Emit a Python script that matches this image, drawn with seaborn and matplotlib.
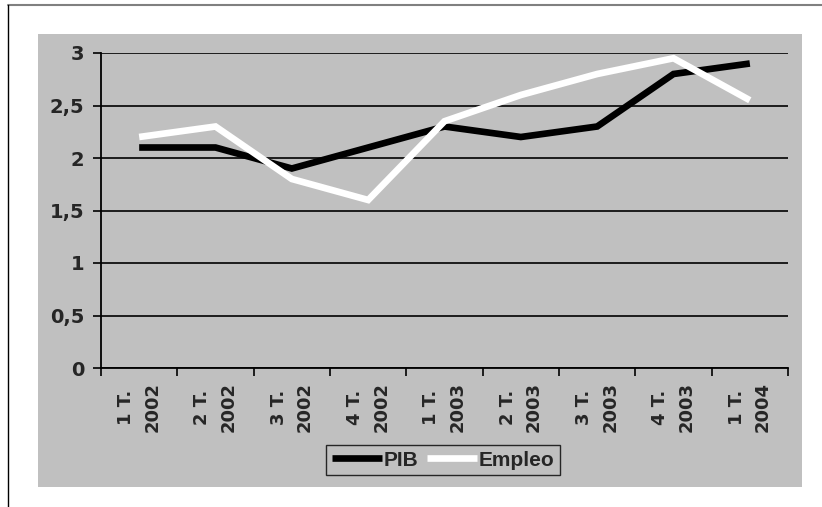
import matplotlib
matplotlib.use("Agg")
import matplotlib.pyplot as plt
from matplotlib.lines import Line2D
from matplotlib.patches import Rectangle
import seaborn as sns
import pandas as pd
import numpy as np

# Quarterly growth figures
quarters = ["1 T.\n2002", "2 T.\n2002", "3 T.\n2002", "4 T.\n2002",
            "1 T.\n2003", "2 T.\n2003", "3 T.\n2003", "4 T.\n2003",
            "1 T.\n2004"]
pib = [2.1, 2.1, 1.9, 2.1, 2.3, 2.2, 2.3, 2.8, 2.9]
empleo = [2.2, 2.3, 1.8, 1.6, 2.35, 2.6, 2.8, 2.95, 2.55]
y_ticks = [0, 0.5, 1, 1.5, 2, 2.5, 3]
y_labels = ["0", "0,5", "1", "1,5", "2", "2,5", "3"]

sns.set_style("white")
plt.rcParams["font.family"] = ["Liberation Sans", "DejaVu Sans"]
plt.rcParams["font.weight"] = "bold"

y_tick_font = {"family": "DejaVu Sans", "weight": "bold", "size": 14}
x_tick_font = {"family": "DejaVu Sans", "weight": "bold", "size": 13}

W, H = 822, 507
fig = plt.figure(figsize=(W / 100, H / 100), dpi=100)
fig.patch.set_facecolor("white")

gray = "#C0C0C0"
# chart area background
fig.add_artist(Rectangle((38 / W, 1 - 487 / H), (802 - 38) / W, (487 - 34) / H,
                         transform=fig.transFigure, facecolor=gray,
                         edgecolor="none", zorder=0))
# outer frame lines
fig.add_artist(Line2D([8 / W, 1], [1 - 5 / H, 1 - 5 / H], transform=fig.transFigure,
                      color="#808080", lw=1.5))
fig.add_artist(Line2D([8 / W, 8 / W], [0, 1 - 5 / H], transform=fig.transFigure,
                      color="black", lw=1.0))

ax = fig.add_axes([101 / W, 1 - 368 / H, (788 - 101) / W, (368 - 53) / H])
ax.set_facecolor(gray)
ax.patch.set_alpha(0)

df = pd.DataFrame({"pos": np.arange(len(quarters)), "PIB": pib, "Empleo": empleo})
sns.lineplot(data=df, x="pos", y="PIB", ax=ax, color="black", lw=4.8,
             label="PIB", solid_capstyle="butt", solid_joinstyle="miter", zorder=3)
sns.lineplot(data=df, x="pos", y="Empleo", ax=ax, color="white", lw=4.8,
             label="Empleo", solid_capstyle="butt", solid_joinstyle="miter", zorder=4)

ax.set_xlim(-0.5, len(quarters) - 0.5)
ax.set_ylim(0, 3)
ax.set_xlabel("")
ax.set_ylabel("")

# category boundaries carry the tick marks, centres carry the labels
ax.set_xticks(np.arange(len(quarters) + 1) - 0.5)
ax.set_xticklabels([])
ax.set_xticks(np.arange(len(quarters)), minor=True)
ax.set_xticklabels(quarters, minor=True, rotation=90, fontdict=x_tick_font,
                   va="top", ha="center", multialignment="center",
                   linespacing=1.6)
ax.tick_params(axis="x", which="minor", length=0, pad=10)
ax.tick_params(axis="x", which="major", length=6, width=1.2, direction="out",
               color="black", bottom=True)

ax.set_yticks(y_ticks)
ax.set_yticklabels(y_labels, fontdict=y_tick_font)
ax.tick_params(axis="y", length=6, width=1.2, direction="out", color="black",
               left=True, pad=6)

ax.grid(axis="y", color="black", lw=1.2)
ax.grid(axis="x", visible=False)
ax.set_axisbelow(True)
for side in ["top", "right"]:
    ax.spines[side].set_visible(False)
for side in ["left", "bottom"]:
    ax.spines[side].set_color("black")
    ax.spines[side].set_linewidth(1.3)

handles, labels = ax.get_legend_handles_labels()
ax.get_legend().remove()
leg = fig.legend(handles, labels, loc="center", bbox_to_anchor=(443 / W, 1 - 460 / H),
                 ncol=2, frameon=True, prop={"weight": "bold", "size": 15},
                 handlelength=2.4, handletextpad=0.1, columnspacing=0.4,
                 borderpad=0.25, fancybox=False)
leg.get_frame().set_edgecolor("black")
leg.get_frame().set_facecolor("none")
leg.get_frame().set_linewidth(1.0)

fig.savefig("out.png", dpi=100, facecolor="white")
